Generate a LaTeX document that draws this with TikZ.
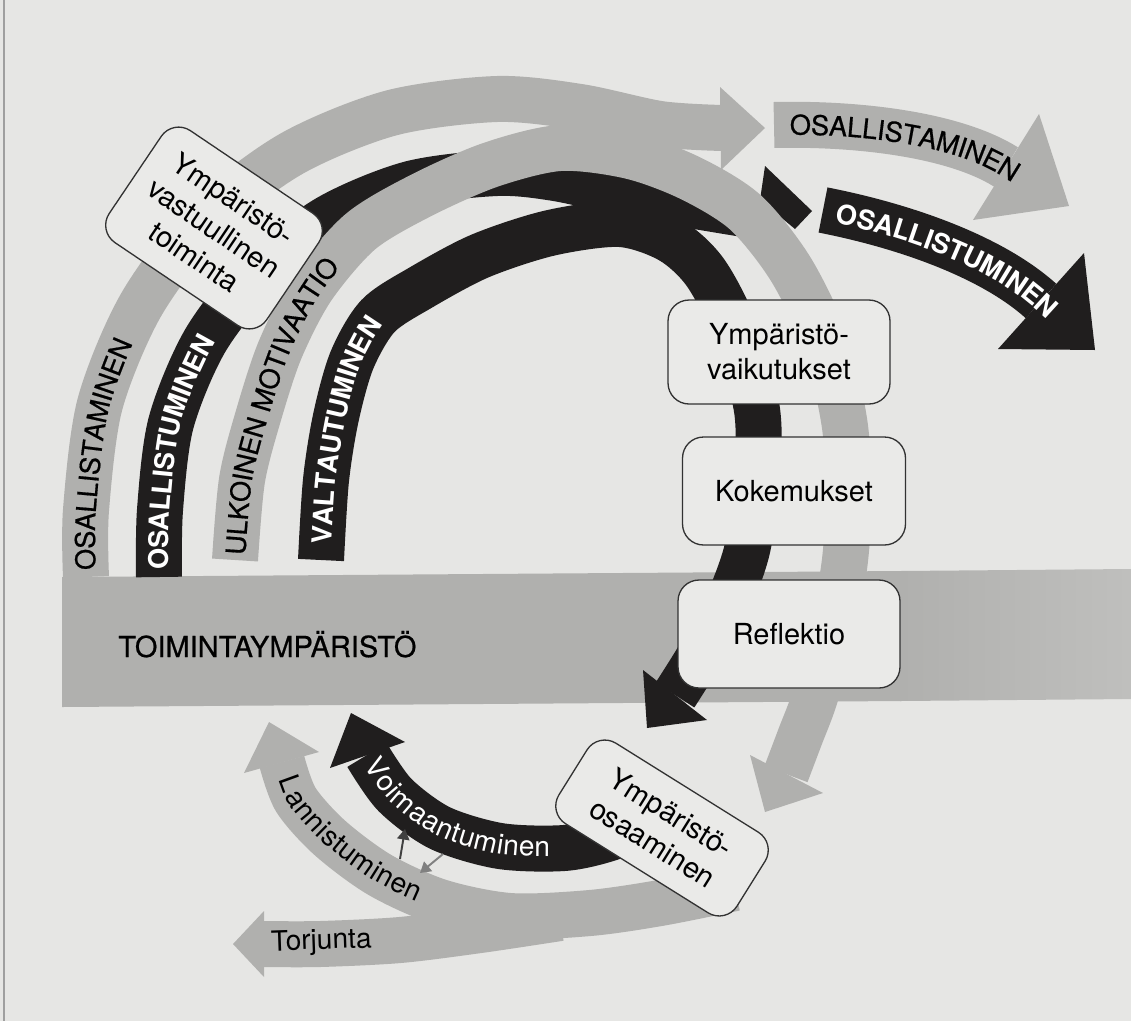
\documentclass[tikz,border=0pt]{standalone}
\usepackage{fontspec}
\setmainfont{TeX Gyre Heros}
\usetikzlibrary{decorations.text,arrows.meta}

\definecolor{paper}{RGB}{230,230,228}
\definecolor{boxfill}{RGB}{234,234,232}
\definecolor{band}{RGB}{176,176,174}
\definecolor{ink}{RGB}{32,30,30}
\definecolor{rim}{RGB}{50,50,50}

\newcommand\capsfont{\fontsize{15.5}{18}\selectfont\addfontfeatures{FakeBold=0.6}}
\newcommand\capsbold{\fontsize{15.5}{18}\selectfont\bfseries}
\newcommand\plainfont{\fontsize{16}{19}\selectfont}
\newcommand\boxfont{\fontsize{16.5}{20}\selectfont}

\begin{document}
\begin{tikzpicture}[x=0.02cm, y=-0.02cm,
  greyband/.style={draw=band, line width=0.92cm},
  blackband/.style={draw=ink, line width=0.92cm},
  box/.style={draw=rim, line width=0.75pt, fill=boxfill, rounded corners=0.42cm,
    align=center, font=\boxfont, inner sep=0pt},
  thin arrow/.style={line width=1.1pt, -{Triangle[length=6pt,width=7pt]}}]

\useasboundingbox (0,0) rectangle (1131,1021);
\fill[paper] (0,0) rectangle (1131,1021);
\draw[gray!75, line width=1.2pt] (4,0) -- (4,1021);

% ground strip
\fill[band] (62,577) -- (901,571) -- (901,701) -- (62,707) -- cycle;
\shade[left color=band, right color=band!72!paper] (900,571) -- (1131,569) -- (1131,699) -- (900,701) -- cycle;
\node[anchor=base west, font=\fontsize{16.5}{19}\selectfont\addfontfeatures{FakeBold=0.6}, inner sep=0pt]
  (ground) at (118,657) {TOIMINTAYMPÄRISTÖ};

% outer grey arc: osallistaminen
\draw[greyband, postaction={decorate, decoration={text along path,
    text align={left indent=4pt}, raise=-5.6pt, text={|\capsfont|OSALLISTAMINEN}}}]
  plot[smooth] coordinates {(86,577) (86,510) (100,404) (141,305) (206,219) (291,154)
    (391,113) (497,99) (580,107) (660,124) (722,128)};
\fill[band] (720,87) -- (765,128) -- (721,170) -- cycle;

% black arc: osallistuminen
\draw[blackband, postaction={decorate, decoration={text along path, text color=white,
    text align={left indent=4pt}, raise=-5.6pt, text={|\capsbold|OSALLISTUMINEN}}}]
  plot[smooth] coordinates {(159,577) (160,510) (171,423) (205,341) (259,272) (328,218)
    (410,184) (497,173) (555,178) (620,192) (690,205) (750,215)};
\fill[ink] (765,166) -- (812,211) -- (795,229) -- (760,200) -- cycle;

% grey arc: ulkoinen motivaatio
\draw[greyband, postaction={decorate, decoration={text along path,
    text align={left indent=3pt}, raise=-5.6pt, text={|\capsfont|ULKOINEN MOTIVAATIO}}}]
  plot[smooth] coordinates {(235,560) (242,480) (258,417) (280,350) (312,288) (360,232)
    (420,196) (490,165) (560,148) (630,156) (690,178) (745,212) (790,268) (825,340)
    (844,420) (849,490) (845,560) (833,630) (815,697) (800,737) (786,774)};
\fill[band] (750,755) -- (765,812) -- (823,793) -- cycle;

% black arc: valtautuminen
\draw[blackband, postaction={decorate, decoration={text along path, text color=white,
    text align={left indent=9pt}, raise=-5.6pt, text={|\capsbold|VALTAUTUMINEN}}}]
  plot[smooth] coordinates {(321,560) (326,480) (336,417) (352,360) (378,316) (420,288)
    (480,256) (550,233) (620,224) (670,240) (705,272) (735,330) (757,410) (757,480)
    (747,550) (727,605) (700,655) (675,695)};
\fill[ink] (643,670) -- (647,728) -- (707,720) -- cycle;

% outgoing arrows at the top right
\draw[greyband] (774,125) .. controls (860,123) and (955,135) .. (1006,167);
\fill[band] (1039,114) -- (1069,206) -- (973,220) -- cycle;
\path[decorate, decoration={text along path, text align={left indent=9pt},
    raise=-5.6pt, text={|\capsfont|OSALLISTAMINEN}}]
  (774,125) .. controls (860,123) and (955,135) .. (1006,167) -- (1069,206);

\draw[blackband] (823,210) .. controls (900,225) and (990,255) .. (1041,301);
\fill[ink] (1084,253) -- (1095,350) -- (998,349) -- cycle;
\path[decorate, decoration={text along path, text color=white, text align={left indent=8pt},
    raise=-5.6pt, text={|\capsbold|OSALLISTUMINEN}}]
  (823,210) .. controls (900,225) and (990,255) .. (1041,301) -- (1095,350);

% lower loop: lannistuminen and torjunta
\draw[greyband, postaction={decorate, decoration={text along path,
    text align={left indent=9pt}, raise=-4.5pt, text={|\plainfont|Lannistuminen}}}]
  plot[smooth] coordinates {(282,762) (296,800) (330,838) (380,875) (440,902) (510,916)
    (590,913) (660,903) (735,888)};
\fill[band] (244,773) -- (269,722) -- (319,752) -- cycle;

\draw[greyband] plot[smooth] coordinates {(560,918) (480,930) (400,940) (320,944) (263,944)};
\fill[band] (264,911) -- (233,944) -- (264,977) -- cycle;
\node[anchor=base west, font=\plainfont, inner sep=0pt, rotate=2] (torjunta) at (271,951) {Torjunta};

% voimaantuminen
\draw[blackband, postaction={decorate, decoration={text along path, text color=white,
    text align={left indent=4pt}, raise=-4.5pt, text={|\plainfont|Voimaantuminen}}}]
  plot[smooth] coordinates {(367,755) (395,795) (440,828) (500,846) (564,848) (610,838) (650,820)};
\fill[ink] (330,768) -- (351,713) -- (405,742) -- cycle;

% small exchange arrows
\coordinate (up0) at (400,859);
\coordinate (up1) at (405,829);
\coordinate (dn0) at (443,854);
\coordinate (dn1) at (420,873);
\draw[thin arrow, draw=black!75, fill=black!75] (up0) -- (up1);
\draw[thin arrow, draw=black!50, fill=black!50] (dn0) -- (dn1);

% boxes
\node[box, rotate=-34, minimum width=3.8cm, minimum height=2.7cm] (vastuu) at (214,228)
  {Ympäristö-\\vastuullinen\\toiminta};
\node[box, minimum width=4.44cm, minimum height=2.08cm] (vaik) at (779,352)
  {Ympäristö-\\vaikutukset};
\node[box, minimum width=4.46cm, minimum height=2.16cm] (kok) at (794,491) {Kokemukset};
\node[box, minimum width=4.44cm, minimum height=2.16cm] (refl) at (789,634) {Reflektio};
\node[box, rotate=-32, minimum width=4.2cm, minimum height=1.9cm] (osaam) at (662,828)
  {Ympäristö-\\osaaminen};

\end{tikzpicture}
\end{document}
